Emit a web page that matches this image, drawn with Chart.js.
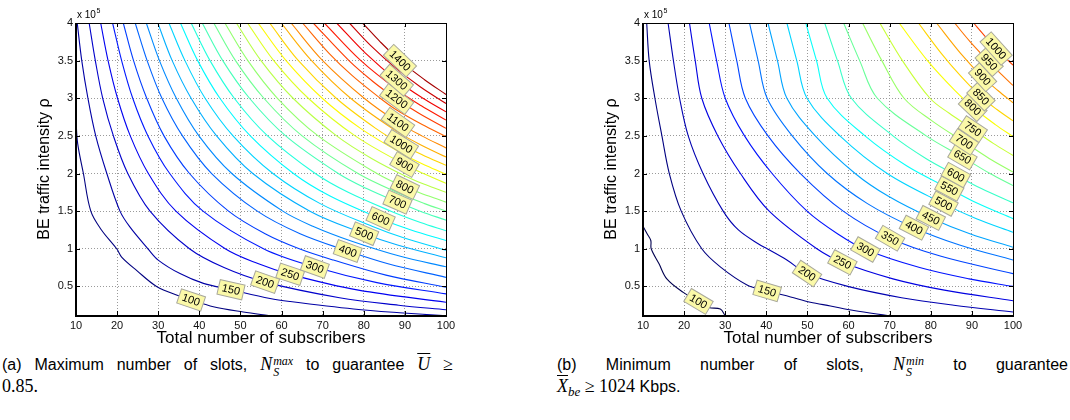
<!DOCTYPE html>
<html>
<head>
<meta charset="utf-8">
<script src="https://cdn.jsdelivr.net/npm/chart.js@4.4.1/dist/chart.umd.min.js"></script>
<style>
  body { margin: 0; background: #fff; width: 1070px; height: 420px; position: relative; overflow: hidden; }
  .plot { position: absolute; top: 0; width: 470px; height: 350px; }
  #plotA { left: 0; }
  #plotB { left: 567px; }
  .cap { position: absolute; font-family: "Liberation Sans", Arial, sans-serif; font-size: 16px; color: #000; line-height: 22px; height: 22px; overflow: visible; }
  .just { text-align: justify; text-align-last: justify; white-space: normal; }
  .m { font-family: "Liberation Serif", "DejaVu Serif", serif; font-style: italic; font-size: 18px; }
  .r { font-family: "Liberation Serif", "DejaVu Serif", serif; font-size: 18px; }
  .bar { text-decoration: overline; }
  .ss { display: inline-block; vertical-align: -6px; font-family: "Liberation Serif", serif; font-style: italic; font-size: 12px; line-height: 11px; text-align: left; text-align-last: left; margin-left: 1px; }
  .ss span { display: block; }
  .sub { font-family: "Liberation Serif", serif; font-style: italic; font-size: 13px; vertical-align: -4px; line-height: 0; }
</style>
</head>
<body>
<canvas id="plotA" class="plot" width="470" height="350"></canvas>
<canvas id="plotB" class="plot" width="470" height="350"></canvas>

<div class="cap just" style="left:2px; top:353px; width:451px;">(a) Maximum number of slots, <span class="m">N</span><span class="ss"><span>max</span><span>S</span></span> to guarantee <span class="m bar">U</span> <span class="r">&ge;</span></div>
<div class="cap" style="left:2px; top:375px;"><span class="r">0.85.</span></div>
<div class="cap just" style="left:557px; top:353px; width:511px;">(b) Minimum number of slots, <span class="m">N</span><span class="ss"><span>min</span><span>S</span></span> to guarantee</div>
<div class="cap" style="left:557px; top:375px;"><span class="m bar">X</span><span class="sub">be</span> <span class="r">&ge; 1024</span> Kbps.</div>

<script>
// axis ticks (rho in units of 1e5)
const xTicks = [10, 20, 30, 40, 50, 60, 70, 80, 90, 100];
const yTicks = [0.5, 1, 1.5, 2, 2.5, 3, 3.5, 4];

// (a) N_S^max contours, one polyline per level: [subscribers, rho]
const levelsA = [100, 150, 200, 250, 300, 350, 400, 450, 500, 550, 600, 650, 700, 750, 800, 850, 900, 950, 1000, 1050, 1100, 1150, 1200, 1250, 1300, 1350, 1400];
const pathsA = [
  [[10, 2.7], [10.4, 2.4], [11.8, 2], [13.6, 1.5], [16.2, 1.25], [19.9, 1], [21.1, 0.89], [24.8, 0.71], [29.6, 0.5], [35.3, 0.37], [38, 0.32], [43.4, 0.23], [50.7, 0.16], [57.2, 0.11]],
  [[10.3, 4], [11.4, 3.5], [12.9, 3], [14.8, 2.5], [17.5, 2], [20.7, 1.5], [23.1, 1.29], [27.5, 1], [30, 0.85], [35.3, 0.67], [41, 0.54], [47.7, 0.456], [57.2, 0.34], [62, 0.3], [77.5, 0.2], [88.7, 0.15], [100, 0.11]],
  [[13.2, 4], [14.7, 3.5], [16.5, 3], [19.1, 2.5], [22.6, 2], [28, 1.5], [37.6, 1], [46, 0.75], [56, 0.557], [74.1, 0.35], [88.5, 0.25], [100, 0.19]],
  [[16, 4], [17.8, 3.5], [20.1, 3], [23.2, 2.5], [27.6, 2], [34.3, 1.5], [46.3, 1], [54.4, 0.8], [62.1, 0.66], [78.7, 0.45], [100, 0.29]],
  [[18.9, 4], [21.1, 3.5], [23.8, 3], [27.5, 2.5], [32.8, 2], [40.9, 1.5], [55.6, 1], [68.1, 0.757], [83.2, 0.55], [100, 0.4]],
  [[21.5, 4], [24, 3.5], [27.2, 3], [31.4, 2.5], [37.6, 2], [47.1, 1.5], [56, 1.2], [64.3, 1], [72.6, 0.85], [85.4, 0.65], [100, 0.49]],
  [[24.4, 4], [27.3, 3.5], [30.9, 3], [35.9, 2.5], [43, 2], [54.1, 1.5], [64.5, 1.2], [76.1, 0.97], [85.9, 0.8], [100, 0.62]],
  [[27.1, 4], [30.3, 3.5], [34.4, 3], [39.9, 2.5], [47.9, 2], [60.3, 1.5], [67.6, 1.3], [77.1, 1.1], [88.9, 0.9], [100, 0.76]],
  [[29.9, 4], [33.4, 3.5], [38, 3], [44.2, 2.5], [53, 2], [66.9, 1.5], [80.1, 1.2], [88.2, 1.05], [100, 0.88]],
  [[32.6, 4], [36.5, 3.5], [41.4, 3], [48.2, 2.5], [57.9, 2], [69.4, 1.6], [82, 1.3], [89.5, 1.15], [100, 0.98]],
  [[35.4, 4], [39.6, 3.5], [45, 3], [52.4, 2.5], [62.9, 2], [71.8, 1.7], [84.1, 1.4], [91.5, 1.25], [100, 1.11]],
  [[38, 4], [42.6, 3.5], [48.5, 3], [56.6, 2.5], [68.2, 2], [76.2, 1.75], [86.6, 1.5], [93.8, 1.35], [100, 1.24]],
  [[40.7, 4], [45.7, 3.5], [52.2, 3], [61, 2.5], [73.8, 2], [80.7, 1.8], [88.2, 1.62], [93.7, 1.5], [100, 1.38]],
  [[43.5, 4], [48.8, 3.5], [55.7, 3], [65, 2.5], [78.6, 2], [89.3, 1.72], [94.8, 1.6], [100, 1.5]],
  [[46.2, 4], [51.8, 3.5], [59, 3], [68.9, 2.5], [83.2, 2], [90, 1.82], [95.8, 1.7], [100, 1.62]],
  [[49, 4], [55, 3.5], [62.8, 3], [73.4, 2.5], [81.9, 2.2], [90.7, 1.95], [95.1, 1.85], [100, 1.75]],
  [[51.7, 4], [58.1, 3.5], [66.5, 3], [77.9, 2.5], [89.9, 2.12], [94.5, 2], [100, 1.87]],
  [[54.3, 4], [61.1, 3.5], [69.9, 3], [79.2, 2.6], [89.8, 2.25], [95.4, 2.1], [100, 1.99]],
  [[57.1, 4], [64.1, 3.5], [73.3, 3], [82.9, 2.6], [89.1, 2.39], [94.2, 2.25], [100, 2.11]],
  [[59.9, 4], [67.3, 3.5], [76.8, 3], [88.3, 2.55], [95, 2.35], [100, 2.22]],
  [[62.3, 4], [70, 3.5], [80.1, 3], [88.3, 2.68], [94.1, 2.5], [100, 2.34]],
  [[65.1, 4], [71.5, 3.6], [77.2, 3.3], [84, 3], [87.8, 2.85], [94.2, 2.65], [100, 2.49]],
  [[67.7, 4], [76.4, 3.5], [82.3, 3.22], [88, 2.99], [93.4, 2.8], [100, 2.6]],
  [[70.4, 4], [79.3, 3.5], [88.4, 3.1], [94, 2.9], [100, 2.71]],
  [[73.4, 4], [80.4, 3.6], [88, 3.24], [94.4, 3], [100, 2.82]],
  [[76.5, 4], [81.7, 3.7], [87.8, 3.4], [93.8, 3.15], [100, 2.93]],
  [[79.7, 4], [84, 3.75], [88.8, 3.5], [94.7, 3.25], [100, 3.05]]
];
const labelLevelsA = [100, 150, 200, 250, 300, 400, 500, 600, 700, 800, 900, 1000, 1100, 1200, 1300, 1400];
const labelXA = [38, 47.7, 56, 62.1, 68.1, 76.1, 80.1, 84.1, 88.2, 90, 89.9, 89.1, 88.3, 88, 88, 88.8];

// (b) N_S^min contours
const levelsB = [100, 150, 200, 250, 300, 350, 400, 450, 500, 550, 600, 650, 700, 750, 800, 850, 900, 950, 1000];
const pathsB = [
  [[10, 1.3], [11, 1.2], [11.9, 1.11], [12, 1], [13.9, 0.8], [15.8, 0.6], [19.8, 0.42], [23.5, 0.3], [26, 0.22], [28.8, 0.2], [30, 0.11]],
  [[10.9, 4], [11.5, 3.5], [12.9, 3], [14.6, 2.5], [16.4, 2], [19.3, 1.5], [24.3, 1], [28.8, 0.76], [35.3, 0.52], [40.2, 0.44], [45.9, 0.36], [50.7, 0.29], [55.6, 0.24], [61.3, 0.18], [69.8, 0.11]],
  [[16.1, 4], [17.4, 3.5], [18.9, 3], [21, 2.5], [24.6, 2], [29.5, 1.5], [33.2, 1.25], [38.5, 1.05], [40.2, 1], [45, 0.85], [49.9, 0.67], [59.8, 0.5], [72.9, 0.35], [85.6, 0.25], [100, 0.16]],
  [[21.3, 4], [22.7, 3.5], [24.3, 3], [28.2, 2.5], [33.7, 2], [40.7, 1.5], [52.3, 1], [58.5, 0.82], [70.8, 0.6], [83.3, 0.45], [100, 0.31]],
  [[26.1, 4], [27.9, 3.5], [30, 3], [34.7, 2.5], [41.4, 2], [49.9, 1.5], [57.3, 1.2], [64.1, 0.99], [77.3, 0.75], [89.3, 0.6], [100, 0.5]],
  [[30.9, 4], [32.8, 3.5], [34.9, 3], [40.4, 2.5], [48.3, 2], [58.7, 1.5], [70.1, 1.14], [82.5, 0.9], [100, 0.67]],
  [[35.9, 4], [38, 3.5], [40.2, 3], [46.3, 2.5], [54.8, 2], [64.6, 1.6], [75.9, 1.28], [87, 1.05], [100, 0.85]],
  [[40.4, 4], [42.7, 3.5], [45, 3], [51.9, 2.5], [61.6, 2], [69.6, 1.7], [80, 1.41], [89.5, 1.2], [100, 1.02]],
  [[45, 4], [47.4, 3.5], [49.9, 3], [57.9, 2.5], [69.4, 2], [83.1, 1.6], [91.1, 1.4], [100, 1.22]],
  [[49.6, 4], [52.2, 3.5], [54.8, 3], [64, 2.5], [74.2, 2.1], [84.5, 1.8], [91.5, 1.6], [100, 1.4]],
  [[54.2, 4], [57.3, 3.5], [60.7, 3], [70.8, 2.5], [78.8, 2.2], [86.1, 1.98], [92.3, 1.8], [100, 1.61]],
  [[58.8, 4], [62.7, 3.5], [67, 3], [78.9, 2.5], [87.7, 2.22], [94.4, 2], [100, 1.84]],
  [[63.4, 4], [68.1, 3.5], [73.5, 3], [80.3, 2.7], [88.1, 2.42], [94.2, 2.2], [100, 2.02]],
  [[67.6, 4], [73.1, 3.5], [79.8, 3], [84.5, 2.8], [90.2, 2.59], [95.2, 2.4], [100, 2.24]],
  [[72.3, 4], [79.2, 3.5], [85.9, 3.1], [90.2, 2.88], [95.7, 2.65], [100, 2.49]],
  [[77, 4], [82.5, 3.6], [87.2, 3.3], [92.2, 3.02], [96.1, 2.85], [100, 2.7]],
  [[81.4, 4], [87.2, 3.6], [92.6, 3.28], [96.4, 3.1], [100, 2.94]],
  [[85.8, 4], [89.6, 3.75], [94.2, 3.48], [97.5, 3.3], [100, 3.17]],
  [[90.4, 4], [93.1, 3.83], [95.9, 3.66], [100, 3.44]]
];
const labelLevelsB = [100, 150, 200, 250, 300, 350, 400, 450, 500, 550, 600, 650, 700, 750, 800, 850, 900, 950, 1000];
const labelXB = [23.5, 40.2, 49.9, 58.5, 64.1, 70.1, 75.9, 80, 83.1, 84.5, 86.1, 87.7, 88.1, 90.2, 90.2, 92.2, 92.6, 94.2, 95.9];

// MATLAB-style jet colormap
function jet(t) {
  const c = v => Math.round(255 * Math.max(0, Math.min(1, v)));
  return `rgb(${c(1.5 - Math.abs(4 * t - 3))},${c(1.5 - Math.abs(4 * t - 2))},${c(1.5 - Math.abs(4 * t - 1))})`;
}

const FONT = "'Liberation Sans', Arial, sans-serif";

// pixel position of a point on a polyline at data x, plus the local angle
function pointOnLine(chart, path, x) {
  const sx = chart.scales.x, sy = chart.scales.y;
  for (let i = 0; i < path.length - 1; i++) {
    const [x0, y0] = path[i], [x1, y1] = path[i + 1];
    if (x >= x0 && x <= x1) {
      const f = x1 === x0 ? 0 : (x - x0) / (x1 - x0);
      const px0 = sx.getPixelForValue(x0), py0 = sy.getPixelForValue(y0);
      const px1 = sx.getPixelForValue(x1), py1 = sy.getPixelForValue(y1);
      return { px: px0 + f * (px1 - px0), py: py0 + f * (py1 - py0), ang: Math.atan2(py1 - py0, px1 - px0) };
    }
  }
  return null;
}

const framePlugin = {
  id: 'frame',
  afterDatasetsDraw(chart, args, opts) {
    const { ctx, chartArea: a } = chart;
    // inline contour labels
    ctx.save();
    ctx.font = `11px ${FONT}`;
    ctx.textAlign = 'center';
    ctx.textBaseline = 'middle';
    opts.labelLevels.forEach((lv, i) => {
      const path = opts.paths[opts.levels.indexOf(lv)];
      const p = pointOnLine(chart, path, opts.labelX[i]);
      if (!p) return;
      let ang = p.ang;
      if (ang > Math.PI / 2) ang -= Math.PI;
      if (ang < -Math.PI / 2) ang += Math.PI;
      const txt = String(lv);
      const w = ctx.measureText(txt).width + 7, h = 15;
      ctx.save();
      ctx.translate(p.px, p.py);
      ctx.rotate(ang);
      ctx.fillStyle = '#fbf9a8';
      ctx.strokeStyle = '#a8a89c';
      ctx.lineWidth = 1;
      ctx.fillRect(-w / 2, -h / 2, w, h);
      ctx.strokeRect(-w / 2, -h / 2, w, h);
      ctx.fillStyle = '#000';
      ctx.fillText(txt, 0, 0.5);
      ctx.restore();
    });
    ctx.restore();

    // axes box with inward tick marks
    const sx = chart.scales.x, sy = chart.scales.y;
    ctx.save();
    ctx.strokeStyle = '#000';
    ctx.lineWidth = 1;
    ctx.beginPath();
    xTicks.forEach(v => {
      const px = Math.round(sx.getPixelForValue(v)) + 0.5;
      ctx.moveTo(px, a.bottom); ctx.lineTo(px, a.bottom - 4);
      ctx.moveTo(px, a.top); ctx.lineTo(px, a.top + 4);
    });
    yTicks.forEach(v => {
      const py = Math.round(sy.getPixelForValue(v)) + 0.5;
      ctx.moveTo(a.left, py); ctx.lineTo(a.left + 4, py);
      ctx.moveTo(a.right, py); ctx.lineTo(a.right - 4, py);
    });
    ctx.stroke();
    ctx.strokeRect(Math.round(a.left) + 0.5, Math.round(a.top) + 0.5, Math.round(a.right - a.left), Math.round(a.bottom - a.top));
    ctx.lineWidth = 2;
    ctx.beginPath();
    ctx.moveTo(Math.round(a.left), Math.round(a.top));
    ctx.lineTo(Math.round(a.left), Math.round(a.bottom) + 1);
    ctx.lineTo(Math.round(a.right) + 1, Math.round(a.bottom) + 1);
    ctx.stroke();
    // exponent marker above the y axis
    ctx.fillStyle = '#000';
    ctx.textAlign = 'left';
    ctx.textBaseline = 'alphabetic';
    ctx.font = `10px ${FONT}`;
    ctx.fillText('x 10', a.left + 1, a.top - 5);
    const w = ctx.measureText('x 10').width;
    ctx.font = `7px ${FONT}`;
    ctx.fillText('5', a.left + 1 + w + 0.5, a.top - 10);
    ctx.restore();
  }
};

function makePanel(id, levels, paths, labelLevels, labelX, cmin, cmax) {
  const datasets = levels.map((lv, i) => ({
    data: paths[i].map(([x, y]) => ({ x, y })),
    borderColor: jet((lv - cmin) / (cmax - cmin)),
    borderWidth: 1.1,
    pointRadius: 0,
    showLine: true,
    tension: 0.35,
    fill: false
  }));
  return new Chart(document.getElementById(id), {
    type: 'scatter',
    data: { datasets },
    options: {
      responsive: false,
      animation: false,
      events: [],
      layout: { padding: { left: 35, right: 24, top: 23, bottom: 1 } },
      plugins: {
        legend: { display: false },
        tooltip: { enabled: false },
        frame: { levels, paths, labelLevels, labelX }
      },
      scales: {
        x: {
          type: 'linear', min: 10, max: 100,
          afterBuildTicks: s => { s.ticks = xTicks.map(v => ({ value: v })); },
          afterFit: s => { s.height = 34; },
          ticks: { font: { family: FONT, size: 11 }, color: '#111', padding: 4, maxRotation: 0, callback: v => String(v) },
          grid: { color: '#9a9a9a', lineWidth: 1, drawTicks: false },
          border: { display: false, dash: [1, 2] },
          title: { display: true, text: 'Total number of subscribers', font: { family: FONT, size: 17 }, color: '#000', padding: 0 }
        },
        y: {
          type: 'linear', min: 0.12, max: 4,
          afterBuildTicks: s => { s.ticks = yTicks.map(v => ({ value: v })); },
          afterFit: s => { s.width = 41; },
          ticks: { font: { family: FONT, size: 11 }, color: '#111', padding: 3, callback: v => String(v) },
          grid: { color: '#9a9a9a', lineWidth: 1, drawTicks: false },
          border: { display: false, dash: [1, 2] },
          title: { display: true, text: 'BE traffic intensity \u03c1', font: { family: FONT, size: 16 }, color: '#000', padding: 0 }
        }
      }
    },
    plugins: [framePlugin]
  });
}

makePanel('plotA', levelsA, pathsA, labelLevelsA, labelXA, 100, 1450);
makePanel('plotB', levelsB, pathsB, labelLevelsB, labelXB, 150, 1200);
</script>
</body>
</html>
